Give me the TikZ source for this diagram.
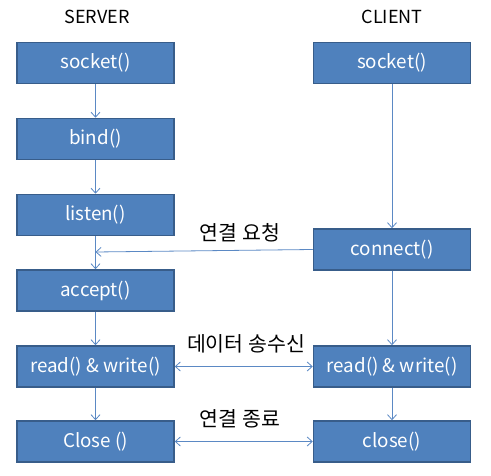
\documentclass[tikz,border=0pt]{standalone}
\usepackage{fontspec}
\setmainfont{Noto Sans CJK KR}
\usetikzlibrary{arrows.meta}
\definecolor{boxfill}{HTML}{4F81BD}
\definecolor{boxline}{HTML}{385D8A}
\definecolor{arrowc}{HTML}{5B89C4}
\tikzset{
  blk/.style={draw=boxline, line width=1.5pt, fill=boxfill, text=white, minimum width=157pt, minimum height=41pt, inner sep=0pt, font=\fontsize{18.8}{22}\selectfont},
  hdr/.style={font=\fontsize{18}{22}\selectfont, inner sep=0pt},
  lbl/.style={font=\fontsize{20.5}{24}\selectfont, inner sep=0pt},
  conn/.style={draw=arrowc, line width=0.8pt, -{Straight Barb[length=5pt,width=9pt]}},
  biconn/.style={draw=arrowc, line width=0.8pt, {Straight Barb[length=5pt,width=9pt]}-{Straight Barb[length=5pt,width=9pt]}}
}
\begin{document}
\begin{tikzpicture}[x=1pt,y=-1pt]
\useasboundingbox (0,0) rectangle (491,476);
\node[hdr] (srv) at (97,17) {SERVER};
\node[hdr] (cli) at (392,17) {CLIENT};
\node[blk] (s1) at (95.5,63) {socket()};
\node[blk] (s2) at (95.5,139) {bind()};
\node[blk] (s3) at (95.5,215) {listen()};
\node[blk] (s4) at (95.5,290.5) {accept()};
\node[blk] (s5) at (95.5,366.5) {read() \& write()};
\node[blk] (s6) at (95.5,441.5) {Close ()};
\node[blk] (c1) at (392,63) {socket()};
\node[blk] (c2) at (392,249.5) {connect()};
\node[blk] (c3) at (392,366.5) {read() \& write()};
\node[blk] (c4) at (392,441.5) {close()};
\coordinate (j) at (95.5,252);
\draw[conn] (s1) -- (s2);
\draw[conn] (s2) -- (s3);
\draw[conn] (s3) -- (s4);
\draw[conn] (s4) -- (s5);
\draw[conn] (s5) -- (s6);
\draw[conn] (c1) -- (c2);
\draw[conn] (c2) -- (c3);
\draw[conn] (c3) -- (c4);
\draw[conn] (c2.west) -- (j);
\draw[biconn] (s5) -- (c3);
\draw[biconn] (s6) -- (c4);
\node[lbl] (l1) at (240,233) {연결 요청};
\node[lbl] (l2) at (246,344) {데이터 송수신};
\node[lbl] (l3) at (240,419) {연결 종료};
\end{tikzpicture}
\end{document}
